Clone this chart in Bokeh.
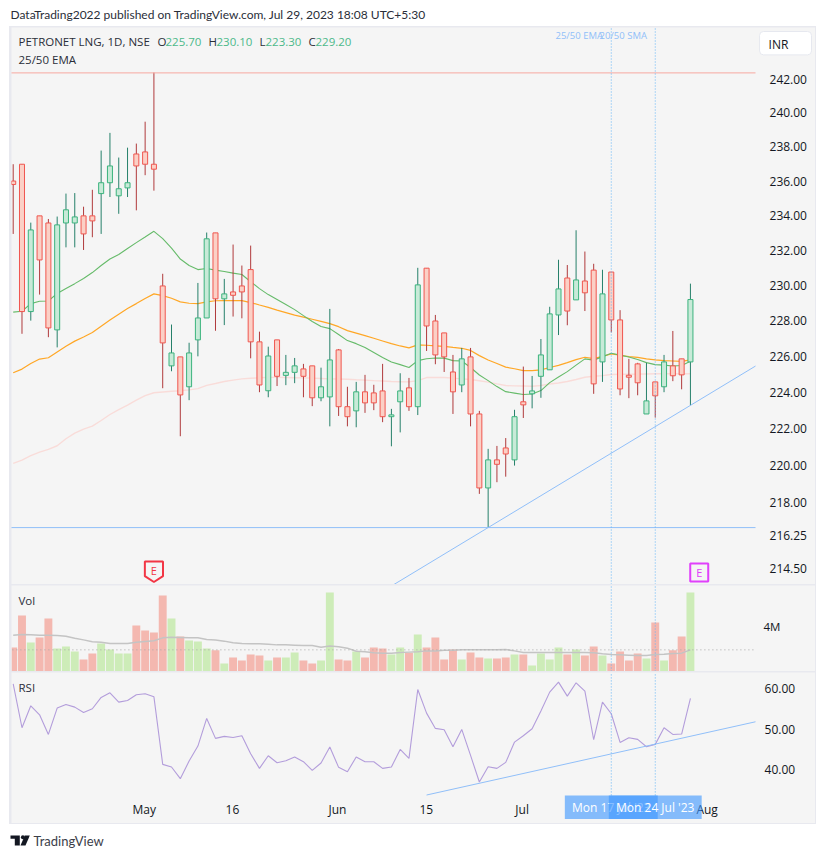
from bokeh.plotting import figure
from bokeh.layouts import column
from bokeh.models import Range1d, FixedTicker, NumeralTickFormatter, PrintfTickFormatter, Label
from bokeh.core.properties import value
from bokeh.embed import file_html
from bokeh.resources import INLINE
import numpy as np

FONT = "Open Sans"
FONT2 = "Lato"
BG = "#f5f5f5"
BAND = "#e8e9ef"
TXT = "#2a2e39"

opens = [236.00,236.98,228.52,233.98,233.57,227.49,233.57,233.57,233.98,233.98,235.27,235.90,235.14,235.60,237.58,237.70,236.98,229.97,225.48,225.98,
224.32,226.93,228.16,233.00,229.24,229.63,229.97,230.90,226.82,224.10,226.93,224.95,225.12,225.31,225.48,223.71,223.76,226.37,223.22,222.99,
224.04,223.98,224.09,222.67,223.49,224.26,223.22,230.98,227.99,227.32,225.14,224.42,225.98,222.82,218.79,220.31,220.96,220.31,223.49,223.93,
224.90,225.26,228.33,230.42,229.18,230.25,230.87,225.70,230.76,228.05,224.96,225.59,222.82,224.59,224.32,225.48,225.87,225.70]
highs = [236.98,236.98,233.59,233.98,233.80,233.94,235.27,235.30,234.51,235.49,237.78,238.82,237.37,237.95,238.19,239.48,242.40,230.66,227.79,225.98,
226.77,230.14,233.02,233.00,230.37,232.33,231.13,232.27,227.39,226.55,226.93,226.09,225.92,225.59,225.48,225.38,228.67,226.42,224.32,224.59,
224.98,224.43,225.59,223.10,225.07,224.81,231.00,230.98,228.33,227.32,226.09,226.48,226.48,222.99,220.91,221.07,221.50,223.05,225.44,224.92,
226.98,228.79,231.46,231.16,233.15,231.93,231.23,230.89,230.76,228.60,225.87,225.65,225.65,224.59,226.09,227.43,225.87,230.10]
lows = [232.94,227.27,228.01,229.48,227.08,226.51,232.17,232.17,232.02,232.75,232.94,235.07,234.10,235.07,234.30,236.34,235.44,224.24,225.18,221.60,
223.58,226.01,228.16,227.44,227.76,228.24,228.14,225.90,224.02,223.74,224.36,224.41,224.52,223.74,223.25,223.52,222.14,222.71,222.14,222.09,
222.88,223.03,222.37,221.05,221.81,222.99,222.76,226.31,225.57,225.14,222.82,224.02,222.14,218.47,216.66,219.10,219.40,220.00,222.60,223.13,
223.71,225.26,227.20,227.75,229.18,228.55,223.93,224.59,227.35,223.85,223.69,223.85,222.82,222.62,224.02,224.63,224.18,223.30]
closes = [235.80,228.52,233.17,231.45,227.60,233.46,234.33,233.92,232.94,233.69,235.90,236.88,235.55,235.90,236.88,236.98,236.69,226.76,226.20,223.87,
226.20,228.16,232.66,229.24,229.52,229.44,229.63,226.82,224.42,226.03,224.90,225.12,225.48,224.90,223.71,224.32,225.81,223.22,222.67,224.04,
223.43,223.43,222.67,222.77,224.09,223.22,230.03,227.71,226.09,225.98,224.04,225.87,222.82,218.79,220.31,220.07,220.63,222.67,223.32,224.09,
226.09,228.39,229.80,228.55,230.31,229.58,224.48,229.52,228.05,224.20,224.85,224.54,223.54,223.82,225.70,224.93,224.98,229.20]

ema_green = [228.49,228.54,228.97,229.10,229.12,229.54,229.82,230.10,230.39,230.73,231.13,231.50,231.76,232.10,232.44,232.76,233.09,232.67,232.13,231.50,
231.13,230.90,230.96,230.87,230.79,230.70,230.62,230.21,229.82,229.48,229.20,228.92,228.63,228.29,227.96,227.68,227.56,227.23,226.89,226.72,
226.50,226.22,225.94,225.69,225.55,225.39,225.77,225.88,225.92,225.91,225.77,225.75,225.39,224.97,224.66,224.33,224.05,223.97,223.89,223.92,
224.11,224.55,224.86,225.16,225.52,225.87,225.80,225.99,226.18,226.08,225.97,225.83,225.66,225.55,225.52,225.47,225.50,225.74]
ema_orange = [225.10,225.30,225.61,225.86,225.93,226.25,226.57,226.86,227.09,227.34,227.70,228.04,228.37,228.69,228.97,229.26,229.52,229.42,229.27,229.07,
228.99,228.97,229.07,229.13,229.14,229.14,229.14,229.03,228.89,228.76,228.60,228.46,228.32,228.21,228.09,227.97,227.84,227.67,227.45,227.31,
227.17,227.02,226.87,226.72,226.59,226.48,226.65,226.63,226.60,226.57,226.51,226.46,226.34,226.05,225.81,225.61,225.41,225.32,225.22,225.22,
225.26,225.39,225.51,225.66,225.83,225.96,225.88,226.01,226.15,226.07,225.99,225.95,225.87,225.81,225.77,225.75,225.73,225.81]
sma_pink = [220.12,220.30,220.54,220.73,220.88,221.08,221.46,221.77,221.99,222.15,222.46,222.79,223.06,223.31,223.58,223.83,223.99,224.03,224.07,224.10,
224.15,224.22,224.40,224.50,224.61,224.69,224.76,224.79,224.82,224.84,224.84,224.83,224.82,224.81,224.80,224.78,224.76,224.75,224.74,224.71,
224.69,224.66,224.64,224.61,224.60,224.59,224.66,224.83,224.83,224.83,224.80,224.76,224.72,224.65,224.58,224.48,224.39,224.37,224.36,224.35,
224.39,224.47,224.53,224.61,224.72,224.85,224.90,224.94,225.00,225.01,225.01,225.02,225.03,225.04,225.04,225.04,225.04,225.04]

volume_m = [2.12,4.94,2.56,3.00,4.68,2.03,2.21,1.76,1.06,1.59,2.47,1.94,1.59,1.59,4.06,3.62,3.44,6.71,4.68,3.09,
2.74,2.65,2.03,1.88,0.71,1.24,0.97,1.50,1.41,0.97,1.24,1.24,1.68,0.97,0.71,0.97,6.97,1.06,0.97,1.76,
1.24,2.12,2.03,1.50,2.12,1.65,3.26,2.12,3.00,1.06,1.94,1.06,1.68,1.24,1.15,1.15,1.24,1.50,1.50,0.53,
1.59,1.06,2.12,1.50,1.94,1.41,2.21,1.41,0.71,1.76,0.97,1.59,1.15,4.32,0.97,1.88,3.09,6.97]
volume_ma = [3.19,3.26,3.24,3.21,3.21,3.18,3.12,2.94,2.79,2.62,2.59,2.47,2.47,2.47,2.59,2.65,2.71,2.97,3.03,3.00,
2.97,2.97,2.82,2.79,2.68,2.53,2.47,2.44,2.44,2.41,2.35,2.35,2.32,2.29,2.29,2.15,2.26,2.18,2.06,1.79,
1.74,1.65,1.62,1.62,1.68,1.71,1.74,1.82,1.82,1.88,1.88,1.91,1.91,1.91,1.91,1.91,1.94,1.82,1.68,1.68,
1.68,1.68,1.68,1.68,1.68,1.68,1.65,1.56,1.50,1.47,1.44,1.41,1.41,1.50,1.53,1.59,1.62,1.91]
rsi = [61.23,50.37,55.80,53.58,48.72,55.23,56.13,55.47,54.16,55.06,57.86,59.01,56.71,57.12,58.52,58.77,58.02,41.32,40.66,37.78,
42.14,45.84,52.67,47.74,48.23,47.98,48.40,43.95,40.33,43.46,41.73,42.22,43.13,41.98,39.84,41.65,45.60,40.58,39.51,43.13,
41.98,41.98,40.33,40.66,45.02,42.80,59.84,53.99,50.21,49.88,45.68,49.96,43.54,36.95,40.74,40.33,41.81,46.83,48.40,50.12,
54.49,59.18,61.65,58.19,61.48,59.42,47.41,56.71,53.83,46.75,47.90,47.49,45.68,46.26,50.37,48.72,48.81,57.61]

price_ticks = [214.5,216.25,218,220,222,224,226,228,230,232,234,236,238,240,242]
rsi_ticks = [40,50,60]
vol_ticks = [4]
time_tick_idx = [14.9,24.93,36.87,46.97,57.87,78.9]
time_tick_labels = ["May","16","Jun","15","Jul","Aug"]
marked_idx = [68,73]
marked_labels = ["Mon 17 Jul '23","Mon 24 Jul '23"]
hline_top = 242.38
hline_bottom = 216.66
trend_x = [43,84.4]
trend_y = [213.56,225.47]
rsi_trend_x = [47,84.4]
rsi_trend_y = [33.74,51.85]
vol_level = 1.91

idx = np.arange(len(opens))
o, h, l, c = map(np.array, (opens, highs, lows, closes))
up = c >= o
body_fill = ["#c8ead8" if u else "#fbd0c6" for u in up]
body_line = ["#3bb37d" if u else "#f0564f" for u in up]
wick = ["#26806a" if u else "#b03a3c" for u in up]
vol_col = ["#cdecb8" if u else "#f4b8b0" for u in up]

XR = (-0.193, 91.22)   # the frames span the whole pane, the scale sits inside them
SCALE_X = 84.4
P_Y = (213.64, 245.11)
V_Y = (0, 7.59)
R_Y = (26.7, 64.03)
R_AXIS = 33.64


def pane(height, yr, ytype="linear", standoff=8, size="12px"):
    p = figure(width=804, height=height, x_range=Range1d(*XR), y_range=Range1d(*yr),
               y_axis_type=ytype, y_axis_location="right", toolbar_location=None,
               output_backend="svg", min_border=0,
               background_fill_color=BG, border_fill_color=BG, outline_line_color=None)
    p.grid.visible = False
    ax = p.yaxis[0]
    ax.fixed_location = SCALE_X
    ax.axis_line_color = None
    ax.major_tick_line_color = None
    ax.minor_tick_line_color = None
    ax.major_label_standoff = standoff
    ax.major_label_text_font = FONT
    ax.major_label_text_font_size = size
    ax.major_label_text_color = "#131722"
    return p


def lab(p, text, x, y, color=TXT, size="11.5px", font=FONT, **kw):
    a = Label(x=x, y=y, x_units="screen", y_units="screen", text=text, text_font=font,
              text_font_size=size, text_color=color, text_baseline="middle", **kw)
    p.add_layout(a)
    return a


# ---------- header ----------
hd = figure(width=809, height=18, x_range=Range1d(8, 817), y_range=Range1d(26, 8),
            toolbar_location=None, output_backend="svg", min_border=0,
            outline_line_color=None, background_fill_color="white", border_fill_color="white")
hd.axis.visible = False
hd.grid.visible = False
hd.add_layout(Label(x=10, y=14, text="DataTrading2022 published on TradingView.com, Jul 29, 2023 18:08 UTC+5:30",
                    text_font=FONT2, text_font_size="12px", text_color=TXT, text_baseline="middle"))

# ---------- price pane ----------
f1 = pane(557, P_Y, "log")
ya = f1.yaxis[0]
ya.ticker = FixedTicker(ticks=price_ticks)
ya.formatter = NumeralTickFormatter(format="0.00")
f1.xaxis.visible = False
f1.line(idx, sma_pink, line_color="#f9dcd9", line_width=1.4)
f1.line(idx, ema_orange, line_color="#ffa726", line_width=1.2)
f1.line(idx, ema_green, line_color="#66bb6a", line_width=1.1)
f1.segment(idx, h, idx, l, line_color=wick, line_width=1)
f1.vbar(x=idx, width=0.57, top=np.maximum(o, c), bottom=np.minimum(o, c),
        fill_color=body_fill, line_color=body_line, line_width=1)
f1.line([-1, SCALE_X], [hline_top, hline_top], line_color="#f7a8a0", line_width=1)
f1.line([-1, SCALE_X], [hline_bottom, hline_bottom], line_color="#90bff9", line_width=1)
f1.line(trend_x, trend_y, line_color="#90bff9", line_width=1)

f1.patch([14.97, 17.03, 17.03, 16, 14.97, 14.97], [214.85, 214.85, 214.08, 213.77, 214.08, 214.85],
         fill_color=BG, line_color="#f23645", line_width=2)
f1.text([16], [214.38], text=["E"], text_font=value(FONT), text_font_size="11px", text_color="#f23645",
        text_align="center", text_baseline="middle")
f1.scatter([78], [214.28], marker="square", size=18, fill_color=BG, line_color="#e040fb", line_width=2)
f1.text([78], [214.28], text=["E"], text_font=value(FONT), text_font_size="11px", text_color="#e040fb",
        text_align="center", text_baseline="middle")

T = 557  # frame height, labels are placed from the frame's bottom
lab(f1, "PETRONET LNG, 1D, NSE", 7, T - 14)
lab(f1, "O", 146, T - 14)
lab(f1, "225.70", 154, T - 14, "#4cb98a")
lab(f1, "H", 197, T - 14)
lab(f1, "230.10", 205, T - 14, "#4cb98a")
lab(f1, "L", 248, T - 14)
lab(f1, "223.30", 254, T - 14, "#4cb98a")
lab(f1, "C", 297, T - 14)
lab(f1, "229.20", 304, T - 14, "#4cb98a")
lab(f1, "25/50 EMA", 7, T - 32)
lab(f1, "25/50 EMA", 544, T - 8, "#90bff9", "9.5px")
lab(f1, "20/50 SMA", 588, T - 8, "#90bff9", "9.5px")

f1.quad(left=[84.86], right=[90.77], top=[244.87], bottom=[243.46], fill_color="white",
        line_color="#e6e8ef", line_width=1, border_radius=4)
f1.text([85.88], [244.11], text=["INR"], text_font=value(FONT), text_font_size="12px", text_color="#131722",
        text_align="left", text_baseline="middle")

# ---------- volume pane ----------
f2 = pane(86, V_Y, standoff=2, size="11.5px")
f2.xaxis.visible = False
f2.yaxis[0].ticker = FixedTicker(ticks=vol_ticks)
f2.yaxis[0].formatter = PrintfTickFormatter(format="%dM")
f2.vbar(x=idx, width=0.9, top=volume_m, bottom=0, fill_color=vol_col, line_color=None)
f2.line(idx, volume_ma, line_color="#c4c4c4", line_width=1.5)
f2.line([-1, SCALE_X], [vol_level, vol_level], line_color="#a8a8a8", line_width=1, line_dash="1 3")
lab(f2, "Vol", 7, 71)

# ---------- RSI pane ----------
f3 = pane(151, R_Y, standoff=3)
f3.yaxis[0].ticker = FixedTicker(ticks=rsi_ticks)
f3.yaxis[0].formatter = NumeralTickFormatter(format="0.00")
xa = f3.xaxis[0]
xa.fixed_location = R_AXIS
xa.ticker = FixedTicker(ticks=time_tick_idx)
xa.major_label_overrides = dict(zip(time_tick_idx, time_tick_labels))
xa.axis_line_color = None
xa.major_tick_line_color = None
xa.minor_tick_line_color = None
xa.major_label_standoff = 0
xa.major_label_text_font = FONT
xa.major_label_text_font_size = "12px"
xa.major_label_text_color = "#131722"
f3.line(idx, rsi, line_color="#b39ddb", line_width=1.1)
f3.line(rsi_trend_x, rsi_trend_y, line_color="#90bff9", line_width=1)
lab(f3, "RSI", 7, 136)

for fig, (y0, y1) in ((f1, P_Y), (f2, V_Y), (f3, (R_AXIS, R_Y[1]))):
    fig.segment(marked_idx, [y0, y0], marked_idx, [y1, y1], line_color="#64b5f6", line_width=1, line_dash="1 2")

for m, t in zip(marked_idx, marked_labels):
    f3.quad(left=[m - 5.28], right=[m + 5.28], top=[R_AXIS], bottom=[27.8], fill_color="#3f98ff",
            fill_alpha=0.62, line_color=None, level="overlay")
    f3.text([m], [30.67], text=[t], text_font=value(FONT), text_font_size="12px", text_color="white",
            text_align="center", text_baseline="middle", level="overlay")

# ---------- footer ----------
ft = figure(width=809, height=26, x_range=Range1d(8, 817), y_range=Range1d(850, 824),
            toolbar_location=None, output_backend="svg", min_border=0,
            outline_line_color=None, background_fill_color="white", border_fill_color="white")
ft.axis.visible = False
ft.grid.visible = False
ft.patch([10, 19.3, 19.3, 14.3, 14.3, 10], [835, 835, 845, 845, 838.3, 838.3], fill_color="#131722", line_color=None)
ft.patch([24.3, 29.3, 25, 20], [835, 835, 845, 845], fill_color="#131722", line_color=None)
ft.scatter([22.4], [836.8], size=4, fill_color="#131722", line_color=None)
ft.add_layout(Label(x=33, y=840, text="TradingView", text_font=FONT2, text_font_size="13px",
                    text_color="#3c4049", text_baseline="middle"))

f1.margin = (1, 1, 0, 2)
f2.margin = (0, 1, 0, 2)
f3.margin = (0, 1, 1, 2)
inner = column(f1, f2, f3, spacing=1, margin=(0, 0, 0, 1), styles={"background-color": BAND})
page = column(hd, inner, ft, spacing=0, margin=(8, 0, 0, 8))

open("out.html", "w").write(file_html(page, INLINE))
